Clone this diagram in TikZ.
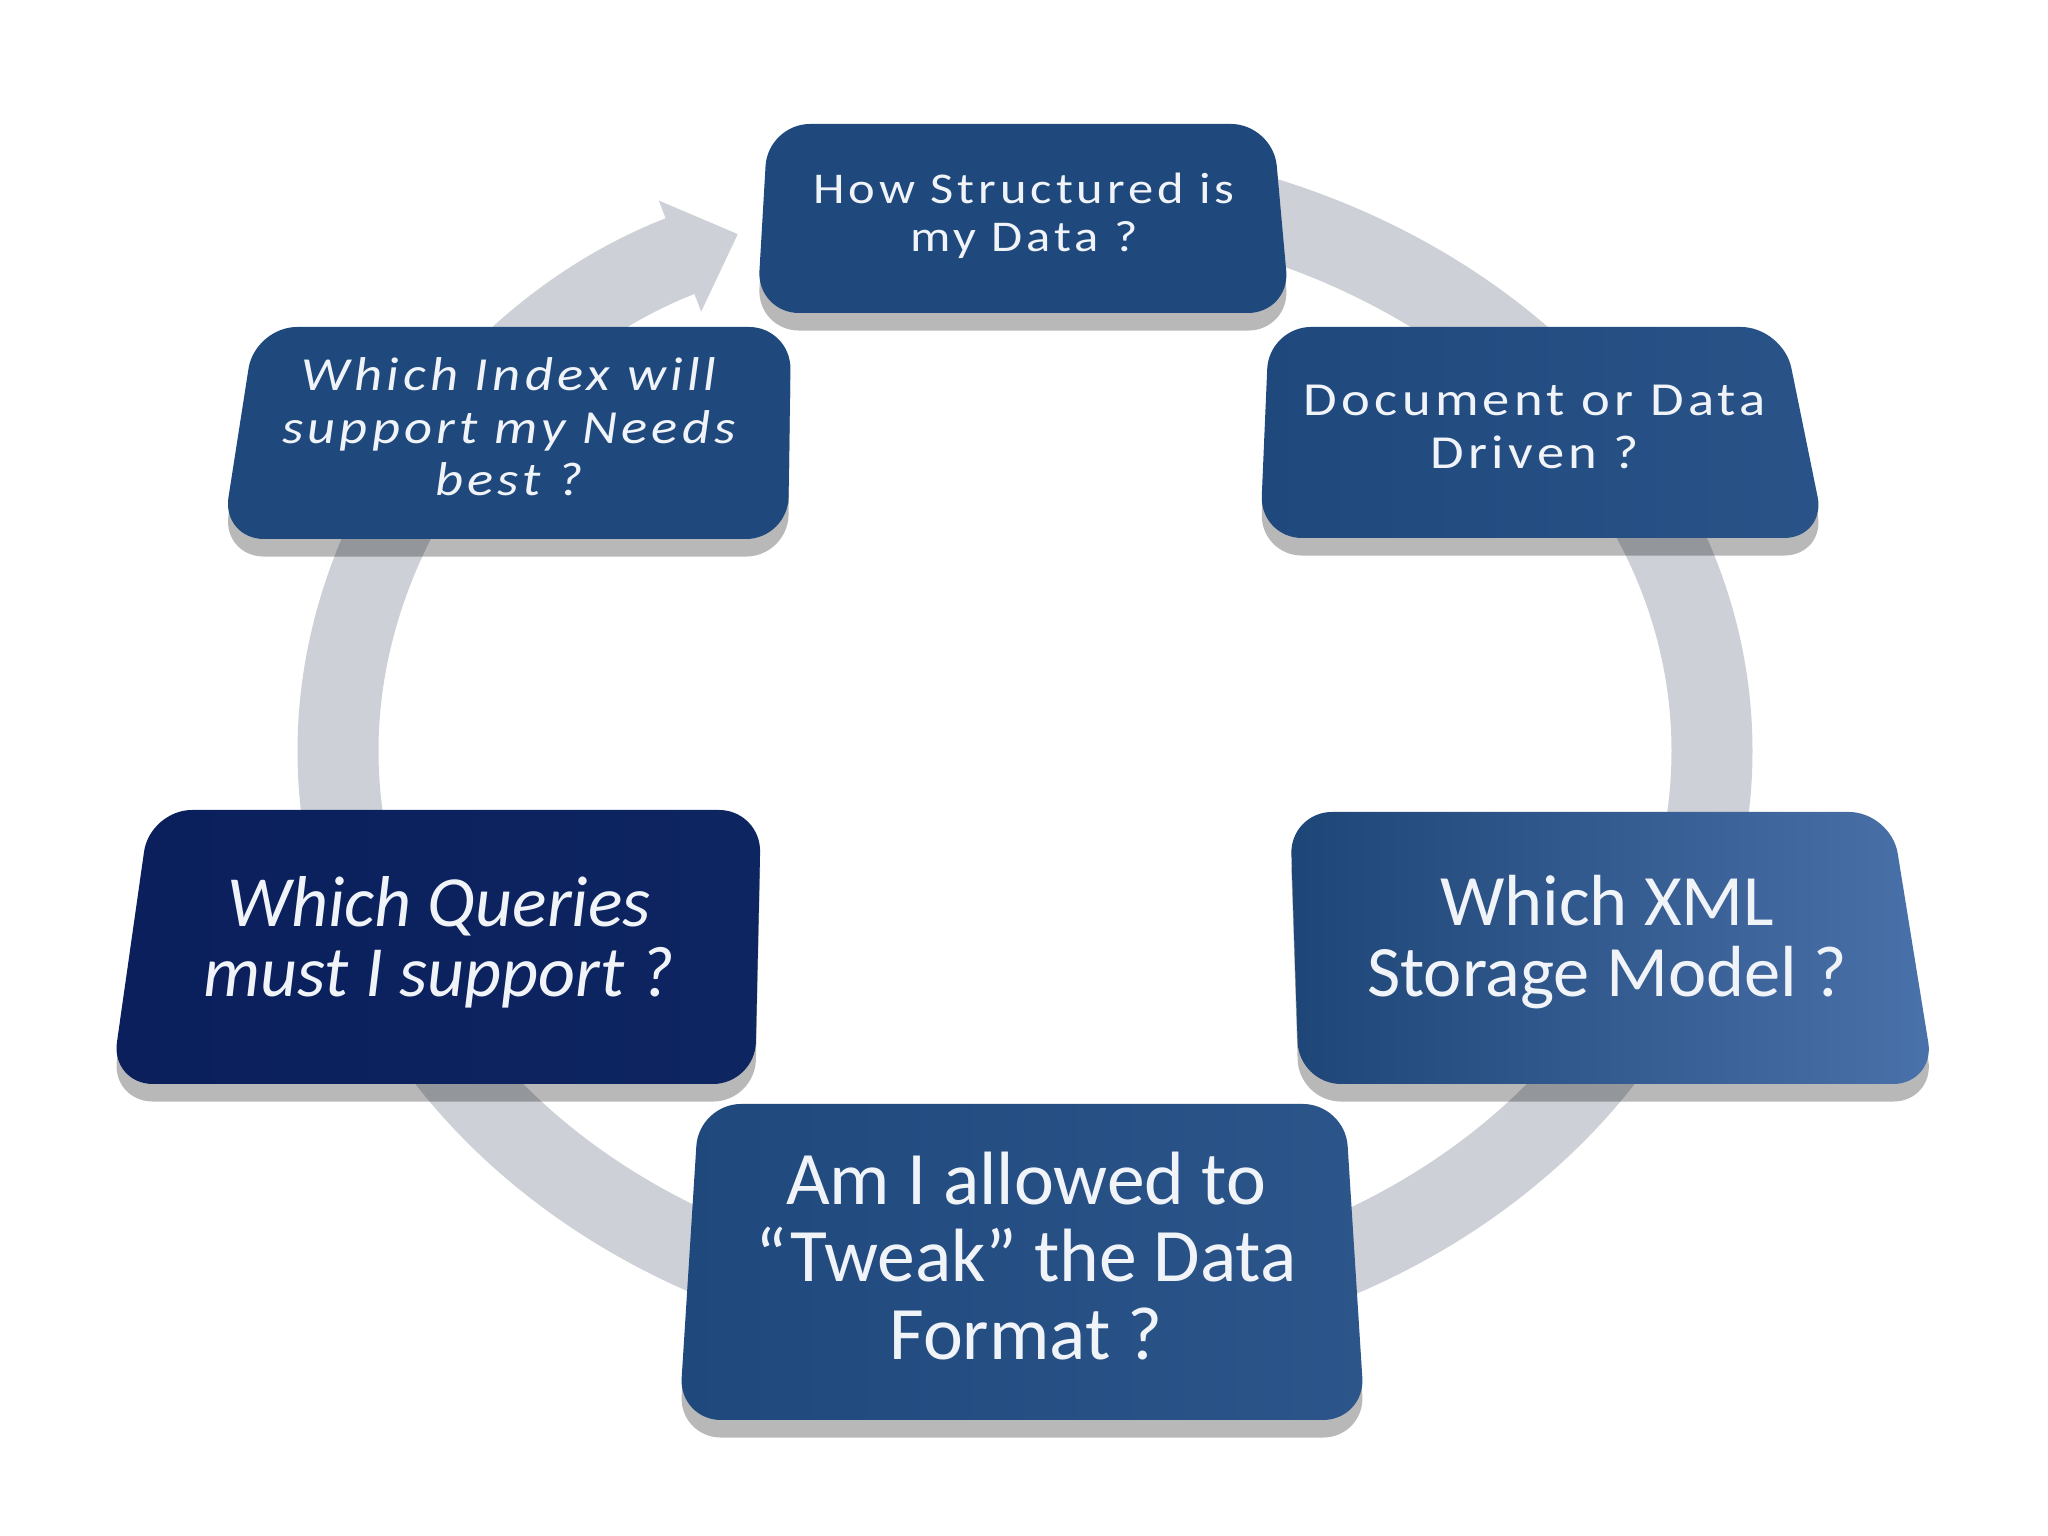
\documentclass[tikz,border=0pt]{standalone}
\usepackage{fontspec}
\setmainfont{Carlito}
\newfontfamily\spacedfont{Carlito}[FakeStretch=1.15,LetterSpace=9]
\usetikzlibrary{arrows.meta,shadows}
\definecolor{qblue}{RGB}{31,73,125}
\definecolor{qbluelight}{RGB}{74,114,170}
\definecolor{qnavy}{RGB}{10,31,92}
\definecolor{ringgray}{RGB}{205,208,214}
\definecolor{qwhite}{RGB}{240,243,247}

\begin{document}
\begin{tikzpicture}[
      card/.style={rounded corners=0.42cm,
        drop shadow={shadow xshift=0pt,shadow yshift=-5pt,opacity=.28,fill=black}},
      small/.style={text=qwhite,align=center,font=\spacedfont\fontsize{13.5}{15}\selectfont},
      big/.style={text=qwhite,align=center,font=\fontsize{20.6}{20}\selectfont}]
  \fill[white,use as bounding box] (0,0) rectangle (20.48,15.36);
  % cycle ring behind the cards
  \draw[ringgray,line width=0.81cm,-{Triangle[width=1.15cm,length=0.62cm]}]
    (10.25,7.85) ++(90:6.87 and 5.69)
    arc[start angle=90,end angle=-245.3,x radius=6.87,y radius=5.69];
  % cards
  \path[card,fill=qblue] (7.68,14.12)--(12.73,14.12)--(12.90,12.23)--(7.57,12.23)--cycle;
  \path[card,left color=qblue,right color=qblue!75!qbluelight]
    (12.69,12.09)--(17.83,12.09)--(18.26,9.98)--(12.60,9.98)--cycle;
  \path[card,left color=qblue!95!black,right color=qbluelight]
    (12.90,7.24)--(18.91,7.24)--(19.35,4.52)--(12.99,4.52)--cycle;
  \path[card,left color=qblue,right color=qblue!70!qbluelight]
    (6.99,4.32)--(13.45,4.32)--(13.65,1.16)--(6.79,1.16)--cycle;
  \path[card,left color=qnavy,right color=qnavy!85!qblue]
    (1.50,7.26)--(7.61,7.26)--(7.55,4.52)--(1.11,4.52)--cycle;
  \path[card,fill=qblue] (2.55,12.09)--(7.91,12.09)--(7.88,9.97)--(2.22,9.97)--cycle;
  % texts
  \node[small,font=\spacedfont\fontsize{12.5}{13.7}\selectfont] (struct) at (10.24,13.20)
    {How Structured is\\my Data ?};
  \node[small] (docdata) at (15.35,11.09) {Document or Data\\Driven ?};
  \node[big] (xmlstore) at (16.07,5.94) {Which XML\\Storage Model ?};
  \node[big,font=\fontsize{21.5}{22}\selectfont] (tweak) at (10.26,2.80)
    {Am I allowed to\\“Tweak” the Data\\Format ?};
  \node[big,font=\itshape\fontsize{20.5}{20}\selectfont] (queries) at (4.39,5.94)
    {Which Queries\\must I support ?};
  \node[small,font=\spacedfont\itshape\fontsize{13.5}{15}\selectfont] (index) at (5.09,11.09)
    {Which Index will\\support my Needs\\best ?};
\end{tikzpicture}
\end{document}
